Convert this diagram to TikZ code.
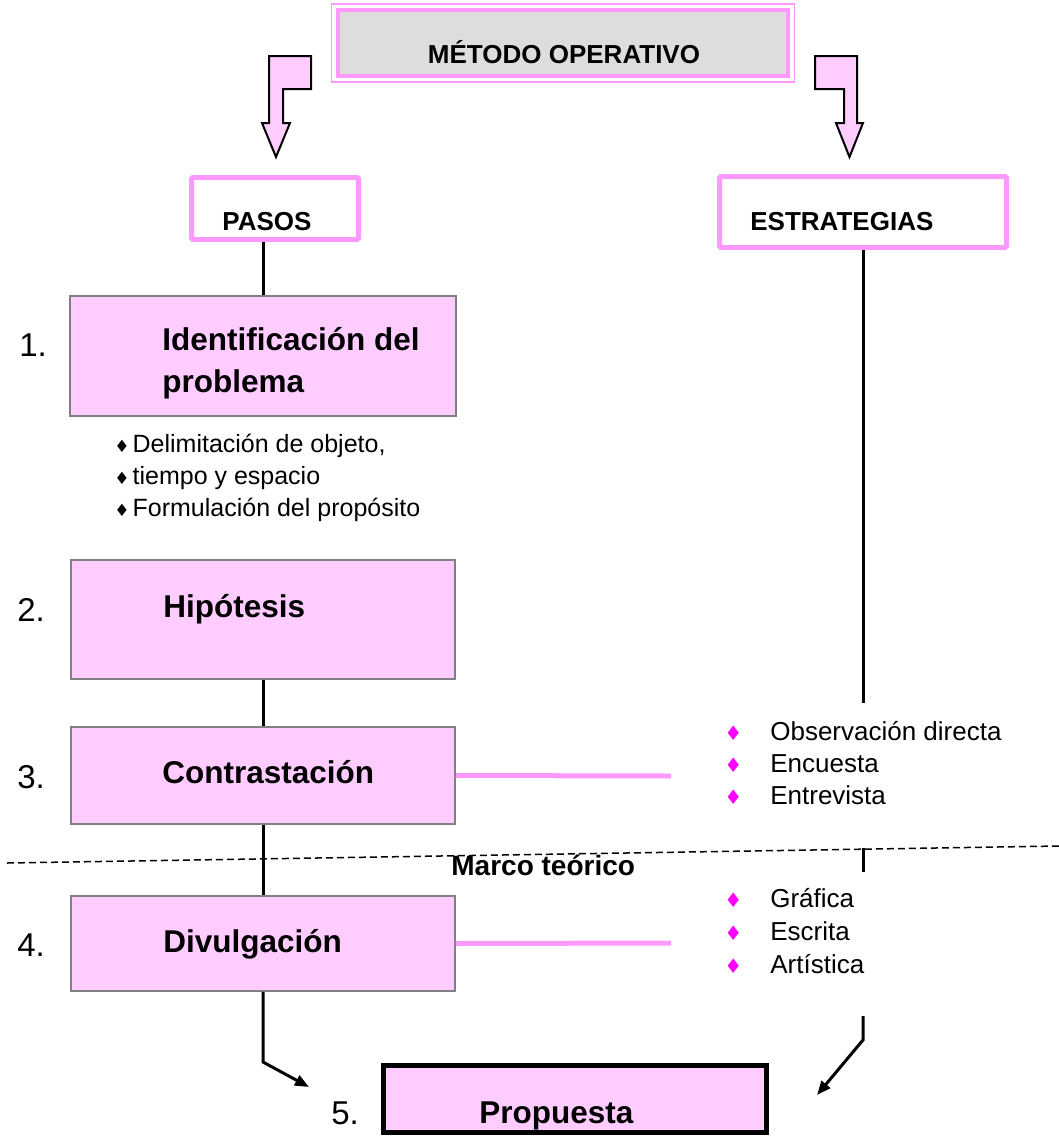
\documentclass[tikz,border=0pt]{standalone}
\usepackage{fontspec}
\setmainfont{Liberation Sans}
\newfontfamily\symfont{DejaVu Sans}
\usetikzlibrary{arrows.meta}
\definecolor{rosa}{HTML}{FFCCFF}
\definecolor{rosaborde}{HTML}{FF99FF}
\definecolor{fucsia}{HTML}{FF00FF}
\definecolor{grisfondo}{HTML}{DDDDDD}
\definecolor{grisborde}{HTML}{808080}
\tikzset{
  paso/.style={draw=grisborde,line width=0.75pt,fill=rosa,inner sep=0pt},
  cabecera/.style={draw=rosaborde,line width=2.5pt,rounded corners=0.75pt,inner sep=0pt},
  flecha/.style={draw=black,line width=1pt,fill=rosa,line join=miter},
  txtpaso/.style={anchor=base west,inner sep=0pt,font=\bfseries\fontsize{15.75}{18}\selectfont},
  txtcab/.style={anchor=base west,inner sep=0pt,font=\bfseries\fontsize{13}{15}\selectfont},
  numero/.style={anchor=base west,inner sep=0pt,font=\fontsize{16.5}{19}\selectfont},
  lista/.style={anchor=base west,inner sep=0pt,font=\fontsize{12.5}{15}\selectfont},
  estr/.style={anchor=base west,inner sep=0pt,font=\fontsize{13}{15}\selectfont},
  linea/.style={line width=1.5pt},
  enlace/.style={draw=rosaborde,line width=2.5pt}
}
\newcommand{\vinieta}{{\symfont\fontsize{8.5}{10}\selectfont\char"2666}\hspace{1.5pt}}
\newcommand{\rombo}{{\color{fucsia}\symfont\fontsize{10}{12}\selectfont\char"2666}\hspace{14pt}}
\begin{document}
\begin{tikzpicture}[x=0.5pt,y=-0.5pt]
\useasboundingbox[fill=white] (0,0) rectangle (1059,1137);
% titulo
\node[draw=rosaborde,line width=0.75pt,minimum width=231.5pt,minimum height=39pt,inner sep=0pt] (metodo) at (563,43) {};
\node[draw=rosaborde,fill=grisfondo,line width=2pt,minimum width=225pt,minimum height=33pt,inner sep=0pt] (metodoin) at (563,43) {};
\node[anchor=base,inner sep=0pt,font=\bfseries\fontsize{13}{15}\selectfont] (tmetodo) at (564,63) {MÉTODO OPERATIVO};
\draw[flecha] (269,56) -- ++(42,0) -- ++(0,33) -- ++(-28,0) -- ++(0,34) -- ++(7,0) -- ++(-14,34) -- ++(-14,-34) -- ++(7,0) -- cycle;
\draw[flecha] (857,56) -- ++(-42,0) -- ++(0,33) -- ++(29,0) -- ++(0,34) -- ++(-8,0) -- ++(13.5,34) -- ++(13.5,-34) -- ++(-6,0) -- cycle;
% cabeceras
\node[cabecera,minimum width=83.5pt,minimum height=31pt] (pasos) at (275,208.5) {};
\node[txtcab] (tpasos) at (222,230) {PASOS};
\node[cabecera,minimum width=143.5pt,minimum height=35.5pt] (estrategias) at (863,212) {};
\node[txtcab] (testrategias) at (750,230) {ESTRATEGIAS};
% pasos
\node[paso,minimum width=193pt,minimum height=60pt] (identificacion) at (263,356) {};
\node[paso,minimum width=192pt,minimum height=59.5pt] (hipotesis) at (263,619.5) {};
\node[paso,minimum width=192pt,minimum height=48.5pt] (contrastacion) at (263,775.5) {};
\node[paso,minimum width=192pt,minimum height=47.5pt] (divulgacion) at (263,943.5) {};
\node[draw=black,fill=rosa,line width=2.5pt,minimum width=191.5pt,minimum height=33.5pt,inner sep=0pt] (propuesta) at (575,1099) {};
\node[txtpaso] (tident1) at (162,350) {Identificación del};
\node[txtpaso] (tident2) at (162,392) {problema};
\node[txtpaso] (thipotesis) at (163,617) {Hipótesis};
\node[txtpaso] (tcontrastacion) at (162,783) {Contrastación};
\node[txtpaso] (tdivulgacion) at (163,952) {Divulgación};
\node[txtpaso] (tpropuesta) at (479,1123) {Propuesta};
\node[numero] (n1) at (19,356) {1.};
\node[numero] (n2) at (17,621) {2.};
\node[numero] (n3) at (17,788) {3.};
\node[numero] (n4) at (17,956) {4.};
\node[numero] (n5) at (331,1124) {5.};
% lista del paso 1
\node[lista] (l1) at (114,452) {\vinieta Delimitación de objeto,};
\node[lista] (l2) at (114,484) {\vinieta tiempo y espacio};
\node[lista] (l3) at (114,516) {\vinieta Formulación del propósito};
% estrategias
\node[estr] (e1) at (724,740) {\rombo Observación directa};
\node[estr] (e2) at (724,772) {\rombo Encuesta};
\node[estr] (e3) at (724,804) {\rombo Entrevista};
\node[estr] (e4) at (724,907) {\rombo Gráfica};
\node[estr] (e5) at (724,940) {\rombo Escrita};
\node[estr] (e6) at (724,973) {\rombo Artística};
\node[anchor=base west,inner sep=0pt,font=\bfseries\fontsize{14}{16}\selectfont] (marco) at (451,875) {Marco teórico};
% conectores
\coordinate (c1) at (863,703);
\coordinate (c2) at (863,848);
\coordinate (c3) at (863,872);
\coordinate (c4) at (863,1016);
\coordinate (c5) at (863,1040);
\coordinate (c6) at (817,1095);
\coordinate (p1) at (263,1062);
\coordinate (p2) at (309,1087);
\coordinate (m1) at (671,776);
\coordinate (m2) at (671,943);
\coordinate (d1) at (7,863);
\coordinate (d2) at (1059,846);
\begin{scope}[linea]
\draw (identificacion.north) -- (identificacion.north |- pasos.south);
\draw (hipotesis.south) -- (contrastacion.north);
\draw (contrastacion.south) -- (divulgacion.north);
\draw[-{Triangle[length=7pt,width=5.5pt]}] (divulgacion.south) -- (p1) -- (p2);
\draw (estrategias.south) -- (c1);
\draw (c2) -- (c3);
\draw[-{Triangle[length=7pt,width=5.5pt]}] (c4) -- (c5) -- (c6);
\end{scope}
\draw[enlace] (contrastacion.east) -- (m1);
\draw[enlace] (divulgacion.east) -- (m2);
\draw[line width=0.75pt,dash pattern=on 3.5pt off 2pt] (d1) -- (d2);
\end{tikzpicture}
\end{document}
